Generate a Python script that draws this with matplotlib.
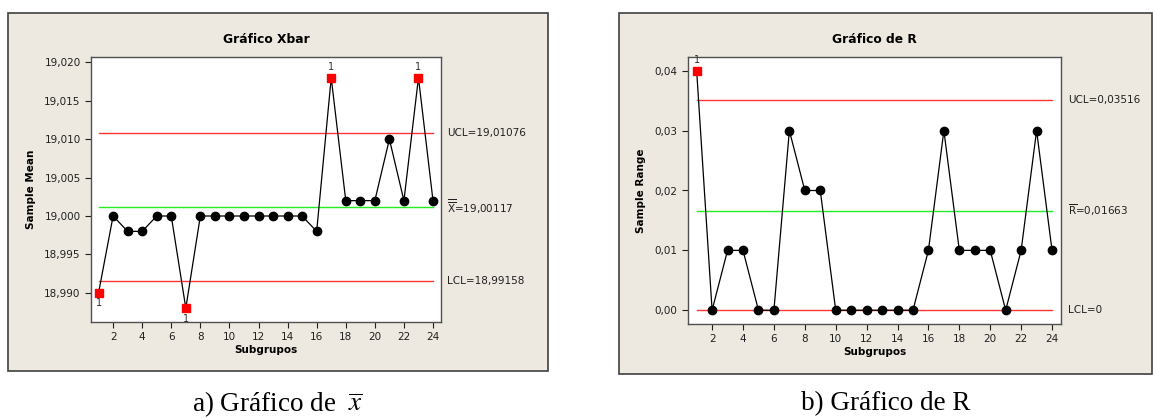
import numpy as np
import matplotlib.pyplot as plt
from matplotlib.patches import Rectangle
from matplotlib.ticker import FuncFormatter
import matplotlib.transforms as mtransforms

# Datos
subgrupos = np.arange(1, 25)
medias = [18.990, 19.000, 18.998, 18.998, 19.000, 19.000, 18.988, 19.000,
          19.000, 19.000, 19.000, 19.000, 19.000, 19.000, 19.000, 18.998,
          19.018, 19.002, 19.002, 19.002, 19.010, 19.002, 19.018, 19.002]
rangos = [0.04, 0.00, 0.01, 0.01, 0.00, 0.00, 0.03, 0.02, 0.02, 0.00, 0.00, 0.00,
          0.00, 0.00, 0.00, 0.01, 0.03, 0.01, 0.01, 0.01, 0.00, 0.01, 0.03, 0.01]
fuera_x = [1, 7, 17, 23]
fuera_r = [1]
ucl_x, cl_x, lcl_x = 19.01076, 19.00117, 18.99158
ucl_r, cl_r, lcl_r = 0.03516, 0.01663, 0.0

W, H = 1153, 419
fig = plt.figure(figsize=(W / 100, H / 100), dpi=100)
fondo = '#EDE9E0'
borde = '#404040'


def px_axes(l, t, r, b):
    return fig.add_axes([l / W, 1 - b / H, (r - l) / W, (b - t) / H], zorder=5)


def marco(l, t, r, b):
    fig.patches.append(Rectangle((l / W, 1 - b / H), (r - l) / W, (b - t) / H,
                                 transform=fig.transFigure, facecolor=fondo,
                                 edgecolor=borde, linewidth=1.2, zorder=-10))


def grafico(ax, y, fuera, ucl, cl, lcl, etiquetas, titulo, ylabel, ylim, xlim, fmt, yticks):
    ax.plot(subgrupos, [ucl] * 24, color='#FF3535', lw=1.0, zorder=1)
    ax.plot(subgrupos, [cl] * 24, color='#22EE22', lw=1.0, zorder=1)
    ax.plot(subgrupos, [lcl] * 24, color='#FF3535', lw=1.0, zorder=1)
    ax.plot(subgrupos, y, color='black', lw=0.9, zorder=2)
    normales = [i for i in subgrupos if i not in fuera]
    ax.plot(normales, [y[i - 1] for i in normales], 'o', color='black', ms=6, zorder=3)
    ax.plot(fuera, [y[i - 1] for i in fuera], 's', color='#FF0000', ms=6, zorder=3)
    for i in fuera:
        if y[i - 1] > cl:
            ax.annotate('1', (i, y[i - 1]), xytext=(0, 4), textcoords='offset points',
                        ha='center', va='bottom', fontsize=7, color='#303030')
        else:
            ax.annotate('1', (i, y[i - 1]), xytext=(0, -4), textcoords='offset points',
                        ha='center', va='top', fontsize=7, color='#303030')
    trans = mtransforms.blended_transform_factory(ax.transAxes, ax.transData)
    for val, txt in zip([ucl, cl, lcl], etiquetas):
        ax.text(1.018, val, txt, transform=trans, ha='left', va='center',
                fontsize=7.5, color='#202020', clip_on=False, math_fontfamily='dejavusans')
    ax.set_xlim(*xlim)
    ax.set_ylim(*ylim)
    ax.set_xticks(range(2, 25, 2))
    ax.set_yticks(yticks)
    ax.yaxis.set_major_formatter(FuncFormatter(fmt))
    ax.tick_params(labelsize=7.5, colors='#202020', length=4, direction='out')
    ax.tick_params(top=False, right=False)
    for s in ax.spines.values():
        s.set_color('#505050')
        s.set_linewidth(1.0)
    ax.set_xlabel('Subgrupos', fontsize=7.5, fontweight='bold', labelpad=2)
    ax.set_ylabel(ylabel, fontsize=7.5, fontweight='bold', labelpad=6)
    ax.set_title(titulo, fontsize=8.8, fontweight='bold', pad=10)


# Panel a
marco(8, 13, 548, 371)
ax1 = px_axes(91, 57, 441, 322)
grafico(ax1, medias, fuera_x, ucl_x, cl_x, lcl_x,
        ['UCL=19,01076', r'$\overline{\overline{\mathrm{X}}}$=19,00117', 'LCL=18,99158'],
        'Gráfico Xbar', 'Sample Mean', (18.9862, 19.0207), (0.48, 24.55),
        lambda v, p: f'{v:.3f}'.replace('.', ','),
        [18.990, 18.995, 19.000, 19.005, 19.010, 19.015, 19.020])

# Panel b
marco(619, 13, 1152, 374)
ax2 = px_axes(688, 57, 1061, 324)
grafico(ax2, rangos, fuera_r, ucl_r, cl_r, lcl_r,
        ['UCL=0,03516', r'$\overline{\mathrm{R}}$=0,01663', 'LCL=0'],
        'Gráfico de R', 'Sample Range', (-0.0023, 0.0423), (0.44, 24.58),
        lambda v, p: f'{v:.2f}'.replace('.', ','),
        [0.00, 0.01, 0.02, 0.03, 0.04])

# Leyendas inferiores
fig.text(277 / W, 1 - 404 / H, r'a) Gráfico de  $\overline{x}$', ha='center', va='center',
         fontsize=19.5, family='Liberation Serif', math_fontfamily='stix')
fig.text(886 / W, 1 - 404 / H, 'b) Gráfico de R', ha='center', va='center',
         fontsize=19.5, family='Liberation Serif')

fig.savefig('out.png', dpi=100)
